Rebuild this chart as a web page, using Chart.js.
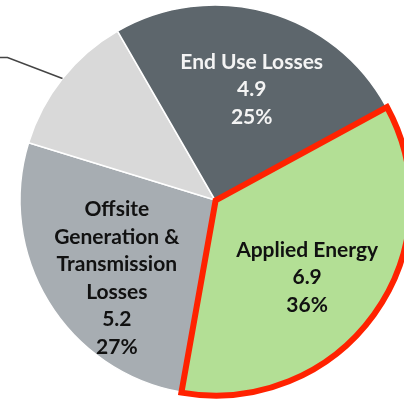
<!DOCTYPE html>
<html>
<head>
<meta charset="utf-8">
<script src="https://cdn.jsdelivr.net/npm/chart.js@4"></script>
<style>
    html, body { margin: 0; padding: 0; background: #fff; overflow: hidden; }
    #wrap { position: absolute; left: 0; top: 0; width: 430px; height: 400px; }
</style>
</head>
<body>
<div id="wrap"><canvas id="energyChart"></canvas></div>
<script>
// slice order starts at the Offsite boundary so Applied Energy is drawn last
const categories = ['Offsite Generation & Transmission Losses', 'Other Losses', 'End Use Losses', 'Applied Energy'];
const labelLines = [
    ['Offsite', 'Generation &', 'Transmission', 'Losses'],
    [],
    ['End Use Losses'],
    ['Applied Energy']
];
const values = [5.2, 2.3, 4.9, 6.9];
const percents = ['27%', '12%', '25%', '36%'];
const sliceColors = ['#a7adb2', '#d9d9d9', '#5d666c', '#b3df95'];
const textColors = ['#111111', '#111111', '#f4f4f4', '#111111'];
// small hand nudges of the label blocks, in px
const labelNudge = [[5, 15], [0, 0], [4, 6], [-6, 7]];

// draws the in-slice labels and the leader line of the small slice
const sliceLabels = {
    id: 'sliceLabels',
    afterDatasetsDraw(chart) {
        const ctx = chart.ctx;
        const arcs = chart.getDatasetMeta(0).data;
        ctx.save();
        ctx.font = 'bold 21px Lato';
        ctx.textAlign = 'center';
        ctx.textBaseline = 'middle';
        arcs.forEach((arc, i) => {
            const mid = (arc.startAngle + arc.endAngle) / 2;
            if (labelLines[i].length === 0) {
                // leader line to a label outside the picture
                const sx = arc.x + Math.cos(mid) * arc.outerRadius;
                const sy = arc.y + Math.sin(mid) * arc.outerRadius;
                ctx.strokeStyle = '#444';
                ctx.lineWidth = 1.5;
                ctx.beginPath();
                ctx.moveTo(sx, sy);
                ctx.lineTo(sx - 55, sy - 21);
                ctx.lineTo(sx - 90, sy - 21);
                ctx.stroke();
                return;
            }
            const lines = labelLines[i].concat([String(values[i]), percents[i]]);
            const r = arc.outerRadius * 0.62;
            const cx = arc.x + Math.cos(mid) * r + labelNudge[i][0];
            const cy = arc.y + Math.sin(mid) * r + labelNudge[i][1];
            const lh = 27.5;
            ctx.fillStyle = textColors[i];
            lines.forEach((t, k) => {
                ctx.fillText(t, cx, cy + (k - (lines.length - 1) / 2) * lh);
            });
        });
        ctx.restore();
    }
};

const ctx = document.getElementById('energyChart').getContext('2d');
new Chart(ctx, {
    type: 'pie',
    data: {
        labels: categories,
        datasets: [{
            data: values,
            backgroundColor: sliceColors,
            borderColor: ['#ffffff', '#ffffff', '#ffffff', '#ff2200'],
            borderWidth: [1.5, 1.5, 1.5, 6],
            borderJoinStyle: 'miter',
            offset: [0, 0, 0, 3],
        }],
    },
    options: {
        responsive: true,
        maintainAspectRatio: false,
        animation: false,
        rotation: 190.1,
        radius: 195,
        layout: { padding: 0 },
        plugins: {
            legend: { display: false },
            tooltip: { enabled: false },
        },
    },
    plugins: [sliceLabels],
});
</script>
</body>
</html>
